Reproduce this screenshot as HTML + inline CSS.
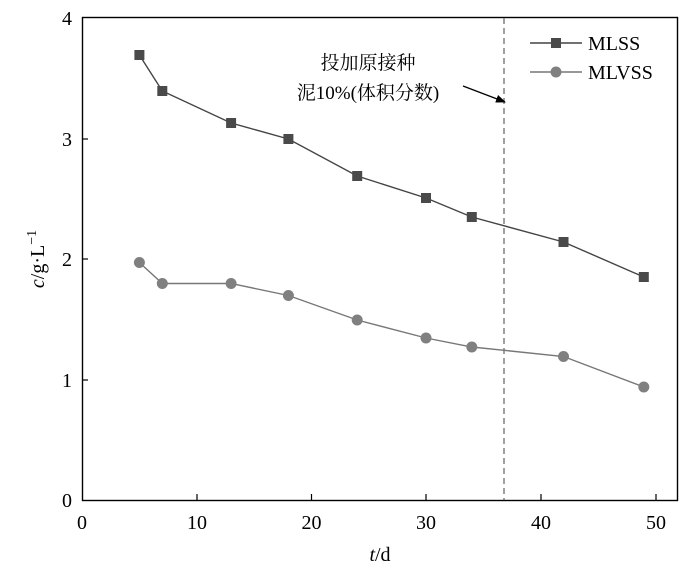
<!DOCTYPE html>
<html><head><meta charset="utf-8"><style>
html,body{margin:0;padding:0;background:#fff;}
svg{display:block;font-family:"Liberation Serif","Noto Serif CJK SC",serif;}
</style></head><body>
<svg width="700" height="568" viewBox="0 0 700 568" xmlns="http://www.w3.org/2000/svg">
<defs><marker id="ah" markerWidth="10" markerHeight="8" refX="9" refY="4" orient="auto" markerUnits="userSpaceOnUse"><path d="M0,0 L10,4 L0,8 z" fill="#000"/></marker></defs>
<rect x="82.5" y="17.5" width="595" height="483" fill="none" stroke="#000" stroke-width="1.4"/>
<g stroke="#000" stroke-width="1.2">
<line x1="197" y1="500" x2="197" y2="494"/><line x1="311.5" y1="500" x2="311.5" y2="494"/><line x1="426" y1="500" x2="426" y2="494"/><line x1="541" y1="500" x2="541" y2="494"/><line x1="656" y1="500" x2="656" y2="494"/>
<line x1="82" y1="380" x2="88" y2="380"/><line x1="82" y1="259" x2="88" y2="259"/><line x1="82" y1="139" x2="88" y2="139"/>
</g>
<g font-size="20" fill="#000" text-anchor="middle">
<text x="82" y="529">0</text><text x="197" y="529">10</text><text x="311.5" y="529">20</text><text x="426" y="529">30</text><text x="541" y="529">40</text><text x="656" y="529">50</text>
</g>
<g font-size="20" fill="#000" text-anchor="end">
<text x="72" y="507">0</text><text x="72" y="387">1</text><text x="72" y="266">2</text><text x="72" y="146">3</text><text x="72" y="25">4</text>
</g>
<text x="380" y="561" font-size="20" text-anchor="middle"><tspan font-style="italic">t</tspan>/d</text>
<text transform="translate(44,259) rotate(-90)" font-size="20" text-anchor="middle"><tspan font-style="italic">c</tspan>/g·L<tspan dy="-8" font-size="14">−1</tspan></text>
<line x1="504" y1="18" x2="504" y2="500" stroke="#777" stroke-width="1.4" stroke-dasharray="6,4"/>
<polyline fill="none" stroke="#444" stroke-width="1.4" points="139.4,55 162.3,91 231.1,123 288.4,139 357.2,176 426,198 471.8,217 563.5,242 643.8,277"/>
<g fill="#4a4a4a">
<rect x="134.4" y="50" width="10" height="10"/><rect x="157.3" y="86" width="10" height="10"/><rect x="226.1" y="118" width="10" height="10"/><rect x="283.4" y="134" width="10" height="10"/><rect x="352.2" y="171" width="10" height="10"/><rect x="421" y="193" width="10" height="10"/><rect x="466.8" y="212" width="10" height="10"/><rect x="558.5" y="237" width="10" height="10"/><rect x="638.8" y="272" width="10" height="10"/>
</g>
<polyline fill="none" stroke="#777" stroke-width="1.4" points="139.4,262.5 162.3,283.5 231.1,283.5 288.4,295.5 357.2,320 426,338 471.8,347 563.5,356.5 643.8,387"/>
<g fill="#808080">
<circle cx="139.4" cy="262.5" r="5.5"/><circle cx="162.3" cy="283.5" r="5.5"/><circle cx="231.1" cy="283.5" r="5.5"/><circle cx="288.4" cy="295.5" r="5.5"/><circle cx="357.2" cy="320" r="5.5"/><circle cx="426" cy="338" r="5.5"/><circle cx="471.8" cy="347" r="5.5"/><circle cx="563.5" cy="356.5" r="5.5"/><circle cx="643.8" cy="387" r="5.5"/>
</g>
<line x1="530" y1="43" x2="582" y2="43" stroke="#444" stroke-width="1.4"/>
<rect x="551" y="38" width="10" height="10" fill="#4a4a4a"/>
<text x="588" y="50" font-size="20">MLSS</text>
<line x1="530" y1="72" x2="582" y2="72" stroke="#777" stroke-width="1.4"/>
<circle cx="556" cy="72" r="5.5" fill="#808080"/>
<text x="588" y="79" font-size="20">MLVSS</text>
<text x="368" y="69" font-size="19" text-anchor="middle">投加原接种</text>
<text x="368" y="99" font-size="19" text-anchor="middle">泥10%(体积分数)</text>
<line x1="463" y1="86" x2="505" y2="102" stroke="#000" stroke-width="1.4" marker-end="url(#ah)"/>
</svg>
</body></html>
